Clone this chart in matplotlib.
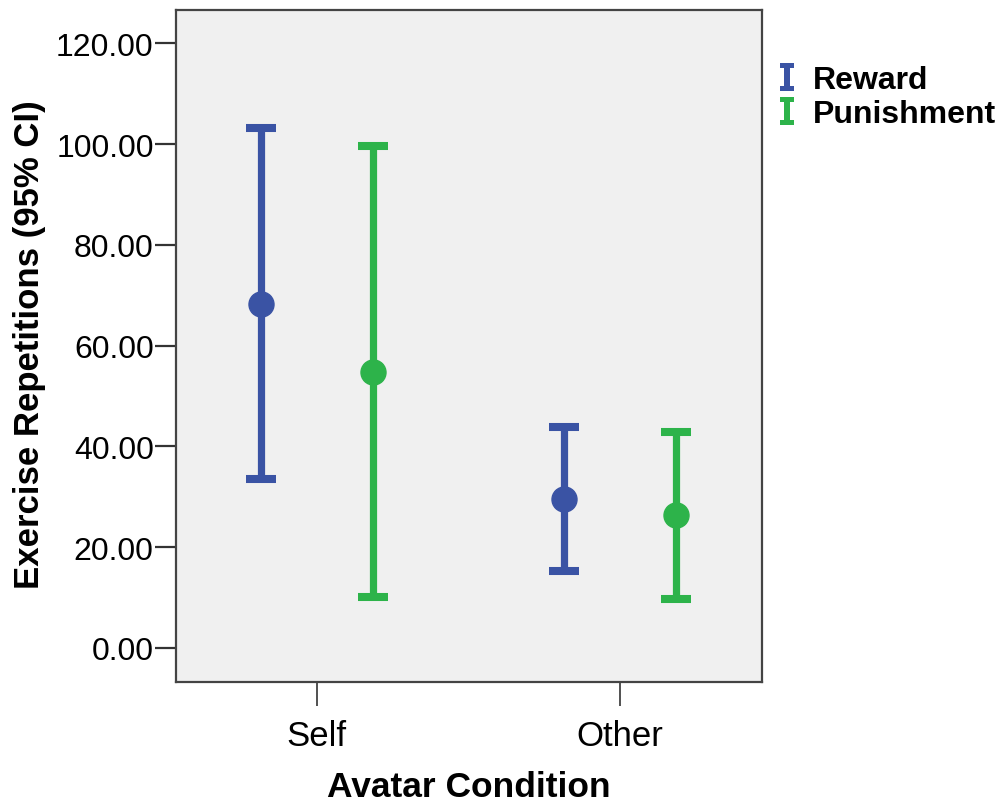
import matplotlib
matplotlib.use("Agg")
import matplotlib.pyplot as plt
import numpy as np
from matplotlib.lines import Line2D
from matplotlib.path import Path

plt.rcParams["font.family"] = ["Liberation Sans", "DejaVu Sans"]

# group means and 95% CI bounds per avatar condition
conditions = ["Self", "Other"]
groups = ["Reward", "Punishment"]
means = {"Reward": [68.3, 29.6], "Punishment": [54.8, 26.4]}
ci_low = {"Reward": [33.5, 15.3], "Punishment": [10.1, 9.7]}
ci_high = {"Reward": [103.2, 43.8], "Punishment": [99.6, 42.9]}
colors = {"Reward": "#3A53A4", "Punishment": "#2DB34A"}
offsets = {"Reward": -0.185, "Punishment": 0.184}

yticks = [0, 20, 40, 60, 80, 100, 120]

fig = plt.figure(figsize=(10.02, 8.04), dpi=100)
ax = fig.add_axes([0.1756, 0.1505, 0.5849, 0.8358])
ax.set_facecolor("#F0F0F0")

x = np.arange(1, len(conditions) + 1)
for g in groups:
    m = np.array(means[g])
    lo = m - np.array(ci_low[g])
    hi = np.array(ci_high[g]) - m
    ax.errorbar(x + offsets[g], m, yerr=[lo, hi], fmt="o", color=colors[g],
                ms=18, elinewidth=5.2, capsize=10.5, capthick=5.8, zorder=3)

ax.set_xlim(0.535, 2.468)
ax.set_ylim(-6.75, 126.6)
ax.set_xticks(x)
ax.set_xticklabels(conditions)
ax.set_yticks(yticks)
ax.set_yticklabels([f"{v:.2f}" for v in yticks])
ax.tick_params(axis="y", length=15, width=1.6, pad=1, labelsize=23, color="#333333")
ax.tick_params(axis="x", length=17, width=1.2, pad=10, labelsize=25, color="#333333")
for s in ax.spines.values():
    s.set_color("#444444")
    s.set_linewidth(1.6)

ax.set_xlabel("Avatar Condition", fontsize=25.5, fontweight="bold")
ax.xaxis.set_label_coords(0.5, -0.131)
ax.set_ylabel("Exercise Repetitions (95% CI)", fontsize=25, fontweight="bold")
ax.yaxis.set_label_coords(-0.222, 0.503)

# I-beam legend glyph
ibeam = Path(
    [(-0.5, 1), (0.5, 1), (0.5, 0.68), (0.22, 0.68), (0.22, -0.68), (0.5, -0.68),
     (0.5, -1), (-0.5, -1), (-0.5, -0.68), (-0.22, -0.68), (-0.22, 0.68),
     (-0.5, 0.68), (-0.5, 1)],
    [Path.MOVETO] + [Path.LINETO] * 11 + [Path.CLOSEPOLY],
)
handles = [Line2D([], [], ls="none", marker=ibeam, ms=20, color=colors[g],
                  markeredgewidth=0) for g in groups]
leg = ax.legend(handles, groups, loc="upper left", bbox_to_anchor=(1.005, 0.937),
                frameon=False, prop={"size": 23, "weight": "bold"},
                handlelength=0.6, handletextpad=0.5, labelspacing=0.12,
                borderaxespad=0)

fig.savefig("out.png", dpi=100)
